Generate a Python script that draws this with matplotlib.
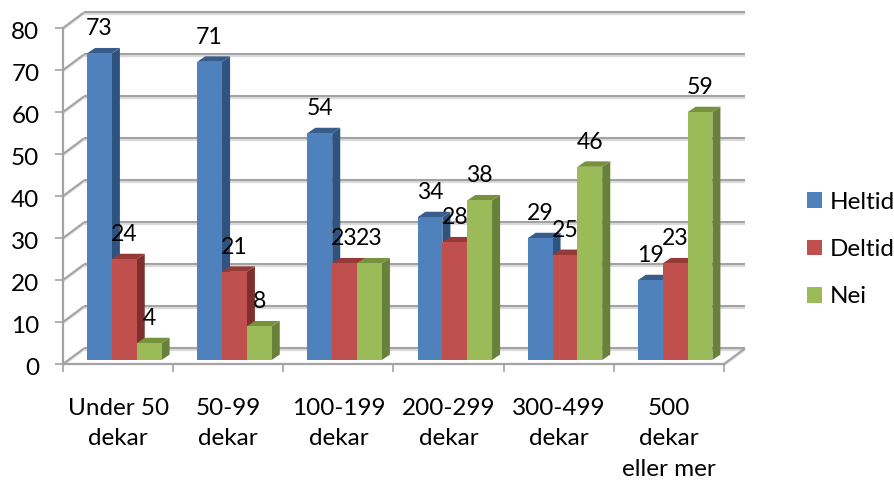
import matplotlib
matplotlib.use('Agg')
import matplotlib.pyplot as plt
from matplotlib.patches import Polygon, Patch
from matplotlib.transforms import ScaledTranslation

plt.rcParams['font.family'] = ['Lato', 'DejaVu Sans']

# data
categories = ['Under 50\ndekar', '50-99\ndekar', '100-199\ndekar', '200-299\ndekar', '300-499\ndekar', '500\ndekar\neller mer']
series_names = ['Heltid', 'Deltid', 'Nei']
heltid = [73, 71, 54, 34, 29, 19]
deltid = [24, 21, 23, 28, 25, 23]
nei = [4, 8, 23, 38, 46, 59]
y_ticks = [0, 10, 20, 30, 40, 50, 60, 70, 80]

# front, side, top colours
colors = [('#4F81BD', '#2F5380', '#385D8A'),
          ('#C0504D', '#7D2F2D', '#963A38'),
          ('#9BBB59', '#67803A', '#76923C')]

grid_c = '#A3A3A3'
shadow_c = '#DADADA'
font_size = 17.5

fig = plt.figure(figsize=(8.94, 4.82), dpi=100)
ax = fig.add_axes([63 / 894, (482 - 364) / 482, 661 / 894, 336 / 482])
ax.set_xlim(0, 6)
ax.set_ylim(0, 80)
ax.patch.set_visible(False)

# 3D offsets in axis units
wall_dx, wall_dy = 0.19, 3.7
bar_dx, bar_dy = 0.073, 1.3
base = 0.95
bar_w = 0.2255
first = 0.218


def grey_line(xs, ys):
    ax.plot(xs, [y - 0.28 for y in ys], color=shadow_c, lw=1.6, clip_on=False, zorder=1, solid_capstyle='butt')
    ax.plot(xs, ys, color=grid_c, lw=1.5, clip_on=False, zorder=1.1, solid_capstyle='butt')


for v in y_ticks:
    grey_line([wall_dx, 6 + wall_dx], [v + wall_dy, v + wall_dy])
    grey_line([0, wall_dx], [v, v + wall_dy])
grey_line([6, 6 + wall_dx], [0, wall_dy])

z = 3
for i in range(len(categories)):
    for j, vals in enumerate([heltid, deltid, nei]):
        x0 = i + first + j * bar_w
        v = vals[i] + base
        front, side, top = colors[j]
        ax.bar(x0, vals[i], bar_w, bottom=base, align='edge', color=front, zorder=z + 0.2,
               edgecolor='none')
        ax.add_patch(Polygon([(x0 + bar_w, base), (x0 + bar_w + bar_dx, base + bar_dy),
                              (x0 + bar_w + bar_dx, v + bar_dy), (x0 + bar_w, v)],
                             closed=True, facecolor=side, edgecolor='none', zorder=z))
        ax.add_patch(Polygon([(x0, v), (x0 + bar_dx, v + bar_dy),
                              (x0 + bar_w + bar_dx, v + bar_dy), (x0 + bar_w, v)],
                             closed=True, facecolor=top, edgecolor='none', zorder=z, clip_on=False))
        ax.text(x0 + bar_w / 2, v + 5.9, str(vals[i]), ha='center', va='center', fontsize=16.6,
                color='black', zorder=50, clip_on=False)
        z += 1

for s in ['top', 'right']:
    ax.spines[s].set_visible(False)
for s in ['left', 'bottom']:
    ax.spines[s].set_color(grid_c)
    ax.spines[s].set_linewidth(1.6)

ax.set_yticks(y_ticks)
ax.tick_params(axis='y', length=5.5, width=1.2, color=grid_c, pad=11.5, labelsize=font_size)
for lab in ax.get_yticklabels():
    lab.set_transform(lab.get_transform() + ScaledTranslation(0, -2 / 72, fig.dpi_scale_trans))
ax.set_xticks(range(7))
ax.set_xticklabels([])
ax.set_xticks([i + 0.5 for i in range(6)], minor=True)
ax.set_xticklabels(categories, minor=True, fontsize=font_size, linespacing=1.55)
ax.tick_params(axis='x', which='major', length=6, width=1.2, color=grid_c)
ax.tick_params(axis='x', which='minor', length=0, pad=24.5)

handles = [Patch(facecolor=c[0], edgecolor='none') for c in colors]
fig.legend(handles, series_names, loc='center left', bbox_to_anchor=(807 / 894, 0.482), frameon=False,
           fontsize=font_size, handlelength=0.62, handleheight=0.62, handletextpad=0.3, labelspacing=1.08,
           borderpad=0, borderaxespad=0)

fig.savefig('out.png', dpi=100)
